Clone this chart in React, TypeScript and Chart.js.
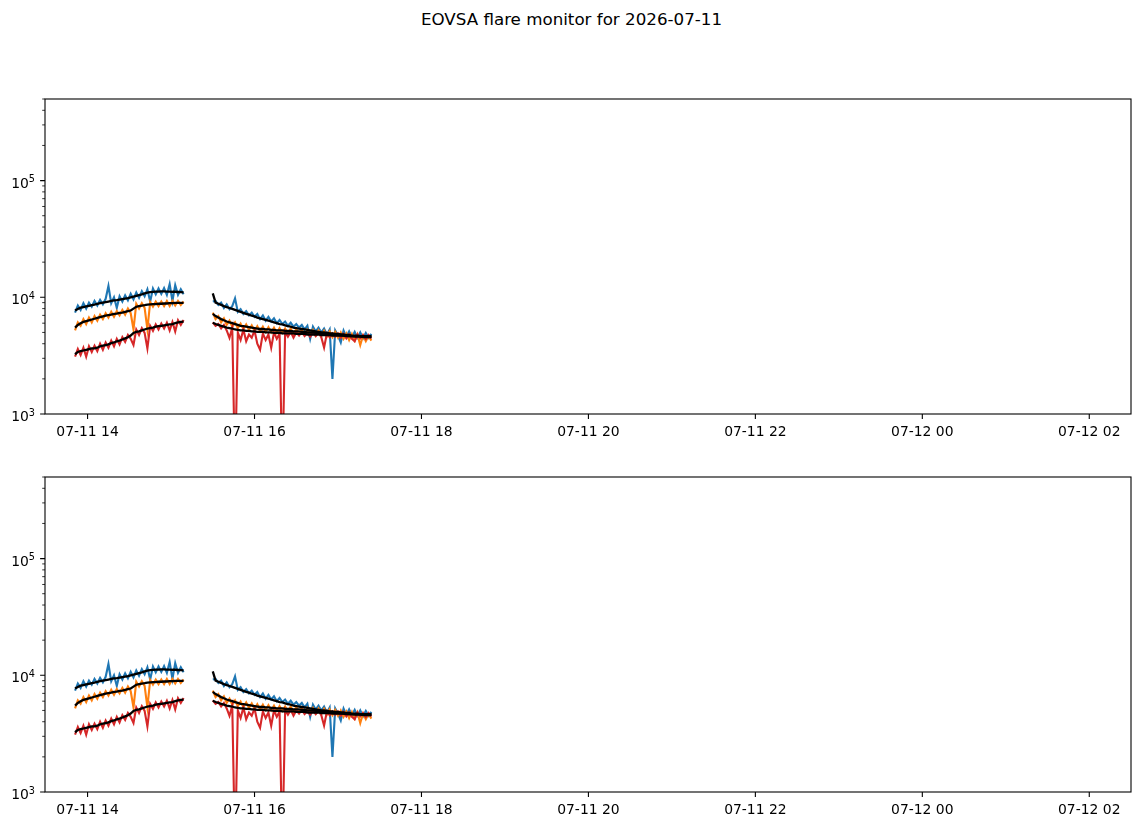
import { useEffect, useRef } from "react"
import { Chart, registerables, type ChartConfiguration } from "chart.js"
Chart.register(...registerables)

const TITLE = "EOVSA flare monitor for 2026-07-11"

// sample times, minutes after 00:00 on 07-11 (920 = gap between the two runs)
const MINUTES = [
  831, 833, 835, 837, 839, 841, 843, 845, 847, 849,
  851, 853, 855, 857, 859, 861, 863, 865, 867, 869,
  871, 873, 875, 877, 879, 881, 883, 885, 887, 889,
  891, 893, 895, 897, 899, 901, 903, 905, 907, 909,
  920,
  930, 932, 934, 936, 938, 940, 942, 944, 946, 948,
  950, 952, 954, 956, 958, 960, 962, 964, 966, 968,
  970, 972, 974, 976, 978, 980, 982, 984, 986, 988,
  990, 992, 994, 996, 998, 1000, 1002, 1004, 1006, 1008,
  1010, 1012, 1014, 1016, 1018, 1020, 1022, 1024, 1026, 1028,
  1030, 1032, 1034, 1036, 1038, 1040, 1042, 1044,
]

const BLUE = [
  7400, 8500, 7800, 8900, 8000, 9000, 8300, 9300, 8500, 9500,
  8700, 9700, 12500, 8900, 10000, 8100, 10200, 9200, 10400, 9400,
  10700, 9600, 11000, 9900, 11300, 10200, 11700, 9200, 11900, 10600,
  11900, 10700, 12000, 10500, 13000, 9300, 12700, 10500, 11700, 10600,
  null,
  9200, 9300, 8600, 9000, 8100, 8700, 7900, 8400, 9800, 7500,
  7900, 7200, 7600, 7000, 7400, 6800, 7200, 6500, 7000, 6300,
  6800, 6200, 6600, 6000, 6400, 5900, 6200, 5700, 6050, 5600,
  5900, 5500, 5800, 5300, 5700, 4400, 5600, 5100, 5500, 5000,
  5400, 4800, 5300, 2000, 5200, 4700, 4100, 5200, 4600, 5100,
  4550, 5050, 4500, 5000, 4450, 4950, 4500, 4850,
]

const ORANGE = [
  5200, 6100, 5700, 6500, 5900, 6700, 6100, 6900, 6300, 7100,
  6500, 7300, 6700, 7500, 6800, 7600, 7000, 7800, 7100, 8000,
  7300, 5300, 8800, 8000, 8900, 8100, 5300, 9100, 8300, 9200,
  8400, 9200, 8400, 9300, 8400, 9300, 8500, 9300, 8600, 9200,
  null,
  7400, 6500, 6900, 6100, 6600, 5800, 6300, 5600, 6100, 5450,
  5950, 5350, 5850, 5250, 5750, 5150, 5650, 5100, 5600, 5050,
  5550, 5000, 5500, 4950, 5450, 4950, 5400, 4900, 5400, 4850,
  5350, 4850, 5300, 4800, 5250, 4750, 5250, 4700, 5200, 4650,
  5150, 4600, 5100, 4550, 5050, 4500, 5000, 4400, 4900, 4300,
  4850, 4250, 4800, 3900, 4700, 4200, 4650, 4250,
]

const RED = [
  3100, 3600, 3200, 3700, 3100, 3800, 3400, 3850, 3450, 4000,
  3550, 4100, 3700, 4250, 3800, 4400, 3950, 4550, 4150, 4750,
  4400, 3900, 5300, 4750, 5450, 4950, 3650, 5700, 5150, 5850,
  5300, 5950, 5400, 6050, 5200, 6150, 5100, 6350, 5800, 6400,
  null,
  6100, 5700, 5900, 5400, 5800, 5200, 4500, 5500, 300, 5000,
  4300, 5300, 4200, 4800, 4500, 5200, 4000, 3550, 4900, 4300,
  4800, 3700, 5000, 4400, 4900, 300, 5050, 4600, 5050, 4500,
  5000, 4700, 5050, 4650, 4950, 4600, 4950, 4650, 4950, 4550,
  3700, 4900, 4550, 4900, 4600, 4900, 4500, 4850, 4450, 4800,
  4400, 4200, 4800, 4450, 4750, 4400, 4750, 4450,
]

// smoothed (black) curves
const BLUE_FIT = [
  7700, 7950, 8150, 8250, 8350, 8450, 8550, 8650, 8800, 8900,
  9000, 9100, 9200, 9300, 9400, 9450, 9550, 9650, 9750, 9850,
  10000, 10150, 10300, 10450, 10600, 10800, 10950, 11050, 11150, 11200,
  11200, 11250, 11250, 11200, 11200, 11150, 11150, 11100, 11050, 11000,
  null,
  10800, 9000, 8800, 8600, 8400, 8250, 8100, 7950, 7800, 7650,
  7500, 7350, 7200, 7100, 6950, 6850, 6700, 6600, 6500, 6400,
  6300, 6200, 6100, 6000, 5900, 5850, 5750, 5650, 5600, 5500,
  5450, 5400, 5350, 5300, 5250, 5200, 5150, 5100, 5050, 5000,
  5000, 4950, 4900, 4900, 4850, 4850, 4800, 4800, 4750, 4750,
  4700, 4700, 4700, 4650, 4650, 4650, 4650, 4650,
]

const ORANGE_FIT = [
  5500, 5800, 6000, 6150, 6250, 6350, 6450, 6550, 6650, 6750,
  6850, 6950, 7050, 7100, 7200, 7250, 7350, 7400, 7500, 7600,
  7700, 8000, 8300, 8400, 8500, 8550, 8650, 8700, 8750, 8750,
  8800, 8800, 8850, 8850, 8900, 8900, 8950, 8950, 8950, 8950,
  null,
  7200, 6900, 6700, 6500, 6350, 6200, 6100, 6000, 5900, 5800,
  5700, 5650, 5600, 5550, 5500, 5450, 5400, 5350, 5350, 5300,
  5300, 5250, 5250, 5200, 5200, 5200, 5150, 5150, 5150, 5100,
  5100, 5100, 5050, 5050, 5000, 5000, 5000, 4950, 4950, 4900,
  4900, 4850, 4850, 4800, 4800, 4750, 4750, 4700, 4700, 4650,
  4650, 4600, 4600, 4600, 4550, 4550, 4550, 4550,
]

const RED_FIT = [
  3250, 3400, 3450, 3500, 3550, 3600, 3650, 3650, 3700, 3800,
  3850, 3900, 3950, 4050, 4100, 4200, 4250, 4350, 4450, 4550,
  4700, 4950, 5050, 5100, 5200, 5300, 5400, 5450, 5500, 5600,
  5650, 5700, 5750, 5800, 5850, 5900, 6000, 6100, 6150, 6200,
  null,
  6050, 5900, 5800, 5700, 5600, 5500, 5450, 5400, 5300, 5250,
  5200, 5200, 5150, 5150, 5100, 5100, 5050, 5050, 5050, 5000,
  5000, 5000, 4950, 4950, 4950, 4900, 4900, 4900, 4900, 4900,
  4850, 4850, 4850, 4850, 4800, 4800, 4800, 4800, 4800, 4750,
  4750, 4750, 4750, 4700, 4700, 4700, 4700, 4700, 4650, 4650,
  4650, 4650, 4650, 4650, 4650, 4650, 4650, 4650,
]

const X_TICK_HOURS = [14, 16, 18, 20, 22, 24, 26]
const X_TICK_LABELS = ["07-11 14", "07-11 16", "07-11 18", "07-11 20", "07-11 22", "07-12 00", "07-12 02"]
const Y_MAJOR = [1e3, 1e4, 1e5]
const Y_TICK_BASE = "10"
const Y_TICK_EXP = ["3", "4", "5"]
const X_MIN = 13.49
const X_MAX = 26.5
const Y_MIN = 1e3
const Y_MAX = 5e5

const FONT = "'DejaVu Sans', sans-serif"

const pts = (vals: (number | null)[]) => MINUTES.map((m, i) => ({ x: m / 60, y: vals[i] }))

// matplotlib-like box, tick marks (major + log minor) and tick labels
const framePlugin = {
  id: "frame",
  afterDraw(chart: Chart) {
    const { ctx, chartArea: a, scales } = chart
    const xs = scales.x
    const ys = scales.y
    ctx.save()
    ctx.strokeStyle = "#000"
    ctx.lineWidth = 1.1
    ctx.strokeRect(a.left, a.top, a.right - a.left, a.bottom - a.top)
    ctx.beginPath()
    for (const h of X_TICK_HOURS) {
      const px = xs.getPixelForValue(h)
      ctx.moveTo(px, a.bottom)
      ctx.lineTo(px, a.bottom + 4.9)
    }
    for (const v of Y_MAJOR) {
      const py = ys.getPixelForValue(v)
      ctx.moveTo(a.left - 4.9, py)
      ctx.lineTo(a.left, py)
    }
    ctx.stroke()
    ctx.lineWidth = 0.8
    ctx.beginPath()
    for (const d of Y_MAJOR) {
      for (let m = 2; m <= 9; m++) {
        if (d * m > Y_MAX) continue
        const py = ys.getPixelForValue(d * m)
        ctx.moveTo(a.left - 2.8, py)
        ctx.lineTo(a.left, py)
      }
    }
    ctx.stroke()

    ctx.fillStyle = "#000"
    ctx.textBaseline = "alphabetic"
    ctx.font = `13.9px ${FONT}`
    ctx.textAlign = "center"
    X_TICK_HOURS.forEach((h, i) => {
      ctx.fillText(X_TICK_LABELS[i], xs.getPixelForValue(h), a.bottom + 21.5)
    })
    ctx.textAlign = "right"
    const right = a.left - 10
    Y_MAJOR.forEach((v, i) => {
      const py = ys.getPixelForValue(v)
      ctx.font = `9.7px ${FONT}`
      const ew = ctx.measureText(Y_TICK_EXP[i]).width
      ctx.fillText(Y_TICK_EXP[i], right, py + 1.6)
      ctx.font = `13.9px ${FONT}`
      ctx.fillText(Y_TICK_BASE, right - ew, py + 7.2)
    })
    ctx.restore()
  },
}

function makeConfig(): ChartConfiguration<"line"> {
  const line = (data: (number | null)[], color: string, width: number, order: number) => ({
    data: pts(data),
    borderColor: color,
    backgroundColor: color,
    borderWidth: width,
    pointRadius: 0,
    tension: 0,
    spanGaps: false,
    order,
  })
  return {
    type: "line",
    data: {
      datasets: [
        line(BLUE, "#1f77b4", 2.1, 6),
        line(BLUE_FIT, "#000000", 2.3, 3),
        line(ORANGE, "#ff7f0e", 2.1, 5),
        line(ORANGE_FIT, "#000000", 2.3, 2),
        line(RED, "#d62728", 2.1, 4),
        line(RED_FIT, "#000000", 2.3, 1),
      ],
    },
    options: {
      responsive: false,
      animation: false,
      events: [],
      layout: { padding: { top: 99, right: 12, bottom: 0, left: 0 } },
      plugins: { legend: { display: false }, tooltip: { enabled: false } },
      scales: {
        x: {
          type: "linear",
          min: X_MIN,
          max: X_MAX,
          grid: { display: false },
          border: { display: false },
          ticks: { display: false },
          afterFit: (s: any) => {
            s.height = 34
          },
        },
        y: {
          type: "logarithmic",
          min: Y_MIN,
          max: Y_MAX,
          grid: { display: false },
          border: { display: false },
          ticks: { display: false },
          afterFit: (s: any) => {
            s.width = 45
          },
        },
      },
    },
    plugins: [framePlugin],
  }
}

function Panel({ top }: { top: number }) {
  const ref = useRef<HTMLCanvasElement>(null)
  useEffect(() => {
    if (!ref.current) return
    const chart = new Chart(ref.current, makeConfig())
    return () => chart.destroy()
  }, [])
  return (
    <canvas
      ref={ref}
      width={1143}
      height={448}
      style={{ position: "absolute", left: 0, top, width: 1143, height: 448 }}
    />
  )
}

export default function App() {
  return (
    <div
      style={{
        position: "absolute",
        left: 0,
        top: 0,
        width: 1143,
        height: 826,
        overflow: "hidden",
        background: "#fff",
        fontFamily: FONT,
      }}
    >
      <div
        style={{
          position: "absolute",
          top: 9,
          left: 0,
          width: 1143,
          textAlign: "center",
          fontSize: 16.7,
          lineHeight: "20px",
          color: "#000",
        }}
      >
        {TITLE}
      </div>
      <Panel top={0} />
      <Panel top={378} />
    </div>
  )
}
